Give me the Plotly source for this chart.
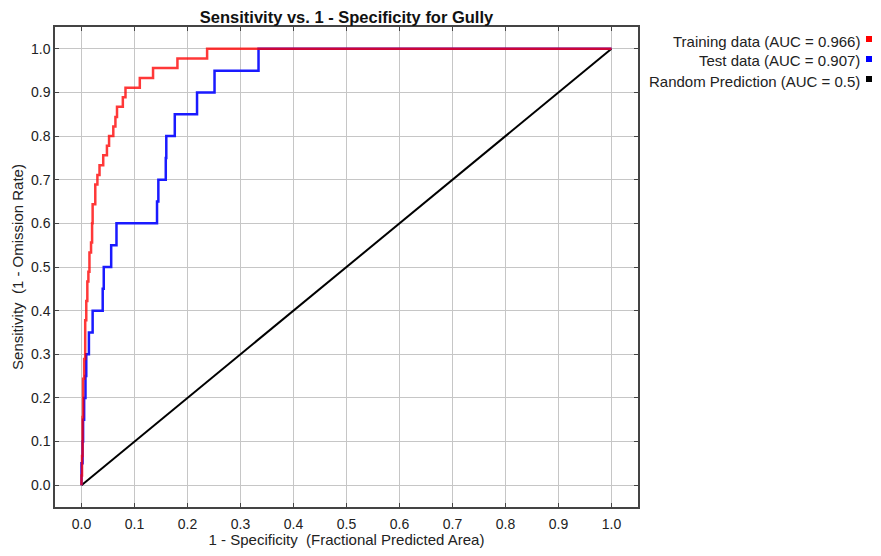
import plotly.graph_objects as go

# ---- data ----
train_fpr = [0.0, 0.000, 0.001, 0.002, 0.003, 0.005, 0.007, 0.009, 0.011, 0.013, 0.015,
             0.018, 0.020, 0.021, 0.026, 0.030, 0.034, 0.041, 0.048, 0.052, 0.060,
             0.064, 0.067, 0.078, 0.083, 0.110, 0.135, 0.181, 0.237, 1.0]
train_tpr = [0.0, 0.022, 0.067, 0.156, 0.244, 0.289, 0.378, 0.422, 0.467, 0.489, 0.533,
             0.556, 0.600, 0.644, 0.689, 0.711, 0.733, 0.756, 0.778, 0.800, 0.822,
             0.844, 0.867, 0.889, 0.911, 0.933, 0.956, 0.978, 1.0, 1.0]

test_fpr = [0.0, 0.000, 0.002, 0.003, 0.005, 0.0075, 0.009, 0.014, 0.021, 0.040, 0.042,
            0.056, 0.066, 0.1425, 0.145, 0.159, 0.160, 0.176, 0.218, 0.251, 0.334, 1.0]
test_tpr = [0.0, 0.05, 0.10, 0.15, 0.20, 0.25, 0.30, 0.35, 0.40, 0.45, 0.50,
            0.55, 0.60, 0.65, 0.70, 0.75, 0.80, 0.85, 0.90, 0.95, 1.0, 1.0]

random_x = [0.0, 1.0]
random_y = [0.0, 1.0]

legend_labels = ["Training data (AUC = 0.966)",
                 "Test data (AUC = 0.907)",
                 "Random Prediction (AUC = 0.5)"]
legend_colors = ["#ff0000", "#0000ff", "#000000"]

ticks = [round(i * 0.1, 1) for i in range(11)]
tick_text = [f"{t:.1f}" for t in ticks]

# page body has an 8px margin on every side: work in page pixels and shift by it
OFF = 8
W, H = 881 - 2 * OFF, 556 - 2 * OFF
L, R, T, B = 55 - OFF, 638 - OFF, 27 - OFF, 507 - OFF

fig = go.Figure()
fig.add_trace(go.Scatter(x=random_x, y=random_y, mode="lines",
                         line=dict(color="#000000", width=2), showlegend=False))
fig.add_trace(go.Scatter(x=test_fpr, y=test_tpr, mode="lines", line_shape="hv",
                         line=dict(color="#1a1aff", width=2.5), showlegend=False))
fig.add_trace(go.Scatter(x=train_fpr, y=train_tpr, mode="lines", line_shape="hv",
                         line=dict(color="rgba(255,0,0,0.78)", width=2.5), showlegend=False))

font = "Liberation Sans, Arial, sans-serif"
axis_common = dict(
    range=[-0.05, 1.05], tickvals=ticks, ticktext=tick_text,
    showgrid=True, gridcolor="#c6c6c6", gridwidth=1,
    zeroline=False, showline=True, linecolor="#444444", linewidth=1.5,
    mirror="allticks", ticks="inside", ticklen=4, tickcolor="#444444",
    tickfont=dict(family=font, size=14, color="#222222"),
    automargin=False,
)

fig.update_layout(
    width=W, height=H,
    margin=dict(l=L, r=W - R, t=T, b=H - B, autoexpand=False),
    paper_bgcolor="white", plot_bgcolor="white",
    showlegend=False,
    title=dict(text="<b>Sensitivity vs. 1 - Specificity for Gully</b>",
               x=0.5, xref="paper", xanchor="center",
               y=1 - 3 / H, yref="container", yanchor="top", pad=dict(t=0, b=0),
               font=dict(family=font, size=16.5, color="#111111")),
    xaxis=dict(axis_common, ticklabelstandoff=3,
               title=dict(text="1 - Specificity  (Fractional Predicted Area)",
                          font=dict(family=font, size=15, color="#222222"), standoff=7)),
    yaxis=dict(axis_common,
               title=dict(text="Sensitivity  (1 - Omission Rate)",
                          font=dict(family=font, size=15, color="#222222"), standoff=4)),
)

def px_to_paper_x(px):
    return (px - OFF - L) / (R - L)

def px_to_paper_y(py):
    return (B - (py - OFF)) / (B - T)

legend_y_px = [41, 61, 81]
for lab, col, ypx in zip(legend_labels, legend_colors, legend_y_px):
    fig.add_annotation(text=lab, xref="paper", yref="paper",
                       x=px_to_paper_x(862), y=px_to_paper_y(ypx),
                       xanchor="right", yanchor="middle", showarrow=False,
                       font=dict(family=font, size=15, color="#222222"))
    fig.add_shape(type="rect", xref="paper", yref="paper",
                  x0=px_to_paper_x(866), x1=px_to_paper_x(872),
                  y0=px_to_paper_y(ypx - 5), y1=px_to_paper_y(ypx + 1),
                  fillcolor=col, line=dict(width=0))

fig.write_html("out.html")
